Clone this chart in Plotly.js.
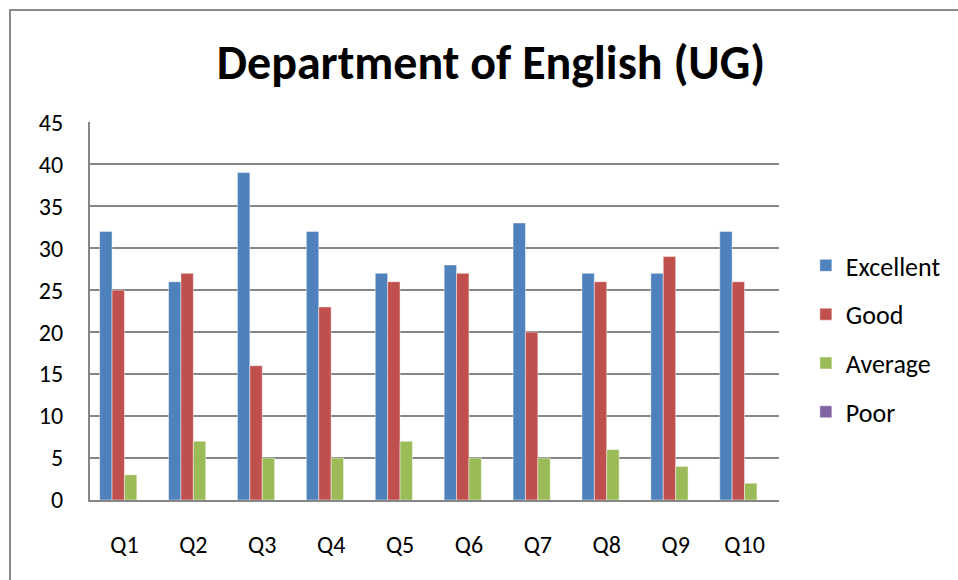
<!DOCTYPE html>
<html>
<head>
<meta charset="utf-8">
<script src="https://cdn.plot.ly/plotly-3.0.1.min.js"></script>
<style>
  html, body { margin: 0; padding: 0; background: #fff; }
  #wrap { position: relative; width: 958px; height: 580px; overflow: hidden; }
  #chart { width: 958px; height: 580px; }
  #frame { position: absolute; left: 9px; top: 9px; width: 2000px; height: 2000px;
           border-left: 2px solid #8a8a8a; border-top: 2px solid #8a8a8a; pointer-events: none; }
</style>
</head>
<body>
<div id="wrap">
  <div id="chart"></div>
  <div id="frame"></div>
</div>
<script>
const categories = ["Q1","Q2","Q3","Q4","Q5","Q6","Q7","Q8","Q9","Q10"];
const excellent = [32, 26, 39, 32, 27, 28, 33, 27, 27, 32];
const good      = [25, 27, 16, 23, 26, 27, 20, 26, 29, 26];
const average   = [3, 7, 5, 5, 7, 5, 5, 6, 4, 2];
const poor      = [0, 0, 0, 0, 0, 0, 0, 0, 0, 0];
const seriesNames = ["Excellent", "Good", "Average", "Poor"];
const seriesColors = ["#4F81BD", "#C0504D", "#9BBB59", "#8064A2"];
const seriesValues = [excellent, good, average, poor];

const fontFam = "Carlito, Calibri, 'Open Sans', sans-serif";

const traces = seriesValues.map((vals, i) => ({
  type: "bar",
  name: seriesNames[i],
  x: categories,
  y: vals,
  legendgroup: "g" + i,
  marker: { color: seriesColors[i], line: { color: "rgba(255,255,255,0.45)", width: 1 } },
  hoverinfo: "x+y+name"
}));

const layout = {
  width: 958, height: 580,
  margin: { l: 90, r: 176, t: 122, b: 80 },
  paper_bgcolor: "#ffffff",
  plot_bgcolor: "#ffffff",
  barmode: "group",
  bargap: 0.28,
  bargroupgap: 0,
  font: { family: fontFam, size: 24, color: "#000" },
  title: {
    text: "<b>Department of English (UG)</b>",
    font: { family: fontFam, size: 48, color: "#000" },
    x: 0.5125, xanchor: "center", xref: "container",
    y: 0.893, yanchor: "middle", yref: "container"
  },
  xaxis: {
    type: "category",
    showline: true, linecolor: "#868686", linewidth: 2,
    showgrid: false, ticks: "",
    ticklabelstandoff: 22,
    tickfont: { family: fontFam, size: 24, color: "#000" }
  },
  yaxis: {
    range: [0, 45.03], tickvals: [0, 5, 10, 15, 20, 25, 30, 35, 40, 45],
    showline: true, linecolor: "#868686", linewidth: 2,
    showgrid: true, gridcolor: "#868686", gridwidth: 2,
    zeroline: false, ticks: "",
    ticklabelstandoff: 20,
    tickfont: { family: fontFam, size: 24, color: "#000" }
  },
  legend: {
    x: 1.039, xanchor: "left", xref: "paper",
    y: 0.426, yanchor: "middle",
    tracegroupgap: 12,
    font: { family: fontFam, size: 26, color: "#000" },
    bgcolor: "rgba(0,0,0,0)"
  },
  showlegend: true
};

Plotly.newPlot("chart", traces, layout, { displayModeBar: false, staticPlot: true });
</script>
</body>
</html>
